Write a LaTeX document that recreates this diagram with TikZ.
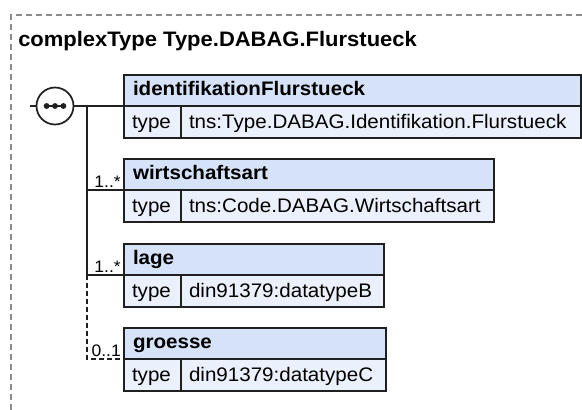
\documentclass[tikz,border=0pt]{standalone}
\usepackage{fontspec}
\setmainfont[FakeStretch=1.05]{Liberation Sans}
\definecolor{hdrfill}{HTML}{D6E2F8}
\definecolor{typfill}{HTML}{EBF1FC}
\definecolor{edgec}{HTML}{202020}
\definecolor{framec}{HTML}{8C8C8C}
\begin{document}
\begin{tikzpicture}[x=0.75pt,y=-0.75pt,
  boxpart/.style={draw=edgec, line width=1.3pt, inner ysep=0pt, outer sep=0pt, align=left, anchor=north west},
  hdr/.style={boxpart, fill=hdrfill, font=\fontsize{14.7pt}{16pt}\selectfont\bfseries,
    minimum height=23.25pt, text height=11.25pt, text depth=3.45pt, inner xsep=6.75pt},
  typecell/.style={boxpart, fill=typfill, font=\fontsize{14.7pt}{16pt}\selectfont,
    minimum height=24pt, text height=12pt, text depth=2.55pt, inner xsep=6pt, text width=30.75pt},
  valcell/.style={boxpart, fill=typfill, font=\fontsize{14.7pt}{16pt}\selectfont,
    minimum height=24pt, text height=12pt, text depth=2.55pt, inner xsep=6pt},
  conn/.style={draw=edgec, line width=1.25pt},
  dconn/.style={conn, dash pattern=on 3.5pt off 2.5pt},
  mult/.style={anchor=base east, inner sep=0pt, font=\fontsize{12.5pt}{14pt}\selectfont},
  seqc/.style={circle, draw=edgec, line width=1.3pt, fill=white, minimum size=27.75pt, inner sep=0pt, outer sep=0pt},
  framel/.style={draw=framec, line width=0.8pt, dash pattern=on 4.5pt off 3pt}
]
\useasboundingbox (0,0) rectangle (582,410);
\draw[framel] (11,410) -- (11,15) -- (582,15);
\node[anchor=base west, inner sep=0pt, font=\fontsize{15.7pt}{18pt}\selectfont\bfseries] (title) at (18,46.7) {complexType Type.DABAG.Flurstueck};

% element boxes
\node[hdr, text width=329.25pt] (h1) at (124,75) {identifikationFlurstueck};
\node[typecell] (t1) at (h1.south west) {type};
\node[valcell, text width=288pt] (v1) at (t1.north east) {tns:Type.DABAG.Identifikation.Flurstueck};

\node[hdr, text width=264pt] (h2) at (124,159) {wirtschaftsart};
\node[typecell] (t2) at (h2.south west) {type};
\node[valcell, text width=222.75pt] (v2) at (t2.north east) {tns:Code.DABAG.Wirtschaftsart};

\node[hdr, text width=181.5pt] (h3) at (124,244) {lage};
\node[typecell] (t3) at (h3.south west) {type};
\node[valcell, text width=140.25pt] (v3) at (t3.north east) {din91379:datatypeB};

\node[hdr, text width=183pt] (h4) at (124,328) {groesse};
\node[typecell] (t4) at (h4.south west) {type};
\node[valcell, text width=141.75pt] (v4) at (t4.north east) {din91379:datatypeC};

% sequence compositor
\coordinate (in) at (30,106);
\node[seqc] (seq) at (55,106) {};
\draw[conn] (in) -- (seq.west);
\draw[conn] (seq.east) -- (h1.south west);
\draw[edgec, line width=1.1pt] ([xshift=-8.5pt]seq.center) -- ([xshift=8.5pt]seq.center);
\fill[edgec] ([xshift=-6.3pt]seq.center) circle (2.2pt);
\fill[edgec] (seq.center) circle (2.2pt);
\fill[edgec] ([xshift=6.3pt]seq.center) circle (2.2pt);

% branches
\coordinate (v) at (87,106);
\draw[conn] (v) -- (v |- h3.south west);
\draw[conn] (v |- h2.south west) -- (h2.south west);
\draw[conn] (v |- h3.south west) -- (h3.south west);
\draw[dconn] (v |- h3.south west) -- (v |- h4.south west) -- (h4.south west);

\node[mult] (m2) at ([xshift=-2.25pt, yshift=2pt]h2.south west) {1..*};
\node[mult] (m3) at ([xshift=-2.25pt, yshift=2pt]h3.south west) {1..*};
\node[mult] (m4) at ([xshift=-2.25pt, yshift=2pt]h4.south west) {0..1};
\end{tikzpicture}
\end{document}
